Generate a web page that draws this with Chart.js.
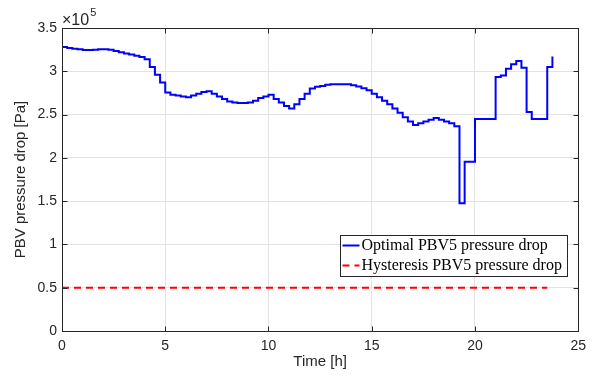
<!DOCTYPE html>
<html>
<head>
<meta charset="utf-8">
<script src="https://cdn.jsdelivr.net/npm/chart.js@4.4.1/dist/chart.umd.min.js"></script>
<style>
  html, body { margin: 0; padding: 0; background: #fff; }
  #wrap { width: 593px; height: 380px; }
</style>
</head>
<body>
<div id="wrap"><canvas id="chart" width="593" height="380"></canvas></div>
<script>
// Time stamps of the optimal schedule [h], 15 min steps
const TIME_H = [
  0, 0.25, 0.5, 0.75, 1, 1.25, 1.5, 1.75, 2, 2.25, 2.5, 2.75,
  3, 3.25, 3.5, 3.75, 4, 4.25, 4.5, 4.75, 5, 5.25, 5.5, 5.75,
  6, 6.25, 6.5, 6.75, 7, 7.25, 7.5, 7.75, 8, 8.25, 8.5, 8.75,
  9, 9.25, 9.5, 9.75, 10, 10.25, 10.5, 10.75, 11, 11.25, 11.5, 11.75,
  12, 12.25, 12.5, 12.75, 13, 13.25, 13.5, 13.75, 14, 14.25, 14.5, 14.75,
  15, 15.25, 15.5, 15.75, 16, 16.25, 16.5, 16.75, 17, 17.25, 17.5, 17.75,
  18, 18.25, 18.5, 18.75, 19, 19.25, 19.5, 19.75, 20, 20.25, 20.5, 20.75,
  21, 21.25, 21.5, 21.75, 22, 22.25, 22.5, 22.75, 23, 23.25, 23.5, 23.75
];

// Optimal PBV5 pressure drop [x1e5 Pa]
const OPTIMAL_DP = [
  3.28, 3.27, 3.26, 3.255, 3.245, 3.245, 3.25, 3.255, 3.255, 3.25,
  3.235, 3.22, 3.205, 3.195, 3.18, 3.165, 3.14, 3.05, 2.96, 2.87,
  2.755, 2.73, 2.72, 2.71, 2.70, 2.72, 2.74, 2.76, 2.77, 2.74,
  2.71, 2.68, 2.65, 2.64, 2.635, 2.635, 2.64, 2.66, 2.69, 2.71,
  2.73, 2.68, 2.64, 2.60, 2.57, 2.62, 2.68, 2.74, 2.80, 2.82,
  2.83, 2.845, 2.85, 2.85, 2.85, 2.85, 2.84, 2.825, 2.805, 2.78,
  2.74, 2.70, 2.66, 2.62, 2.57, 2.52, 2.47, 2.42, 2.38, 2.40,
  2.42, 2.44, 2.46, 2.44, 2.42, 2.40, 2.365, 1.475, 1.955, 1.955,
  2.45, 2.45, 2.45, 2.45, 2.935, 2.95, 3.03, 3.08, 3.12, 3.04,
  2.53, 2.45, 2.45, 2.45, 3.05, 3.17
];

// Hysteresis PBV5 pressure drop [x1e5 Pa]
const HYST_TIME = [0, 23.5];
const HYST_DP = [0.5, 0.5];

const X_TICKS = [0, 5, 10, 15, 20, 25];
const Y_TICKS = [0, 0.5, 1, 1.5, 2, 2.5, 3, 3.5];
const Y_TICK_LABELS = ['0', '0.5', '1', '1.5', '2', '2.5', '3', '3.5'];

const SERIES_NAMES = ['Optimal PBV5 pressure drop', 'Hysteresis PBV5 pressure drop'];

const AXIS_COLOR = '#262626';
const GRID_COLOR = '#e3e3e3';
const SANS = '"Liberation Sans", Arial, sans-serif';
const SERIF = '"Liberation Serif", "Times New Roman", serif';

// MATLAB-like box: frame, inward ticks on all sides, x10^5 exponent, legend
const matlabAxes = {
  id: 'matlabAxes',
  afterDatasetsDraw(chart) {
    const { ctx, chartArea: a, scales: { x, y } } = chart;
    const L = Math.round(a.left) + 0.5, R = Math.round(a.right) + 0.5;
    const T = Math.round(a.top) + 0.5, B = Math.round(a.bottom) + 0.5;
    ctx.save();
    ctx.strokeStyle = AXIS_COLOR;
    ctx.lineWidth = 1;
    ctx.beginPath();
    X_TICKS.forEach(t => {
      const px = Math.round(x.getPixelForValue(t)) + 0.5;
      ctx.moveTo(px, B); ctx.lineTo(px, B - 5);
      ctx.moveTo(px, T); ctx.lineTo(px, T + 5);
    });
    Y_TICKS.forEach(v => {
      const py = Math.round(y.getPixelForValue(v)) + 0.5;
      ctx.moveTo(L, py); ctx.lineTo(L + 5, py);
      ctx.moveTo(R, py); ctx.lineTo(R - 5, py);
    });
    ctx.stroke();
    ctx.strokeRect(L, T, R - L, B - T);

    // exponent label
    ctx.fillStyle = AXIS_COLOR;
    ctx.textBaseline = 'alphabetic';
    ctx.textAlign = 'left';
    ctx.font = '16px ' + SANS;
    ctx.fillText('\u00d710', 62, 25);
    const w = ctx.measureText('\u00d710').width;
    ctx.font = '11px ' + SANS;
    ctx.fillText('5', 62 + w + 1, 16);
    ctx.restore();
  },
  afterDraw(chart) {
    const { ctx } = chart;
    const bx = 340.5, by = 235.5, bw = 227, bh = 41;
    ctx.save();
    ctx.fillStyle = '#fff';
    ctx.fillRect(bx, by, bw, bh);
    ctx.strokeStyle = AXIS_COLOR;
    ctx.lineWidth = 1;
    ctx.strokeRect(bx, by, bw, bh);

    const rows = [by + 10, by + 30];
    const ds = chart.data.datasets;
    rows.forEach((ry, i) => {
      ctx.strokeStyle = ds[i].borderColor;
      ctx.lineWidth = 2;
      ctx.setLineDash(ds[i].borderDash || []);
      ctx.beginPath();
      ctx.moveTo(bx + 2, ry);
      ctx.lineTo(bx + 19, ry);
      ctx.stroke();
      ctx.setLineDash([]);
      ctx.fillStyle = '#000';
      ctx.font = '16px ' + SERIF;
      ctx.textBaseline = 'middle';
      ctx.textAlign = 'left';
      ctx.fillText(SERIES_NAMES[i], bx + 21, ry);
    });
    ctx.restore();
  }
};

new Chart(document.getElementById('chart'), {
  type: 'line',
  data: {
    datasets: [
      {
        label: SERIES_NAMES[0],
        data: TIME_H.map((t, i) => ({ x: t, y: OPTIMAL_DP[i] })),
        borderColor: '#0000ff',
        borderWidth: 2,
        pointRadius: 0,
        stepped: 'before',
        fill: false
      },
      {
        label: SERIES_NAMES[1],
        data: HYST_TIME.map((t, i) => ({ x: t, y: HYST_DP[i] })),
        borderColor: '#ff0000',
        borderWidth: 2,
        borderDash: [7, 5],
        pointRadius: 0,
        fill: false
      }
    ]
  },
  options: {
    responsive: false,
    animation: false,
    devicePixelRatio: 1,
    layout: { padding: { top: 28, right: 13, left: 0, bottom: 0 } },
    plugins: {
      legend: { display: false },
      tooltip: { enabled: false }
    },
    scales: {
      x: {
        type: 'linear',
        min: 0,
        max: 25,
        afterBuildTicks: (s) => { s.ticks = X_TICKS.map(v => ({ value: v })); },
        afterFit: (s) => { s.height = 49; },
        ticks: {
          color: AXIS_COLOR,
          font: { family: SANS, size: 14 },
          padding: 7,
          maxRotation: 0,
          callback: (v) => String(v)
        },
        grid: { color: GRID_COLOR, drawTicks: false },
        border: { display: false },
        title: {
          display: true,
          text: 'Time [h]',
          color: AXIS_COLOR,
          font: { family: SANS, size: 15 },
          padding: { top: 0, bottom: 9 }
        }
      },
      y: {
        type: 'linear',
        min: 0,
        max: 3.5,
        afterBuildTicks: (s) => { s.ticks = Y_TICKS.map(v => ({ value: v })); },
        afterFit: (s) => { s.width = 62; },
        ticks: {
          color: AXIS_COLOR,
          font: { family: SANS, size: 14 },
          padding: 5,
          callback: (v, i) => Y_TICK_LABELS[i]
        },
        grid: { color: GRID_COLOR, drawTicks: false },
        border: { display: false },
        title: {
          display: true,
          text: 'PBV pressure drop [Pa]',
          color: AXIS_COLOR,
          font: { family: SANS, size: 15 },
          padding: { top: 12, bottom: 0 }
        }
      }
    }
  },
  plugins: [matlabAxes]
});
</script>
</body>
</html>
